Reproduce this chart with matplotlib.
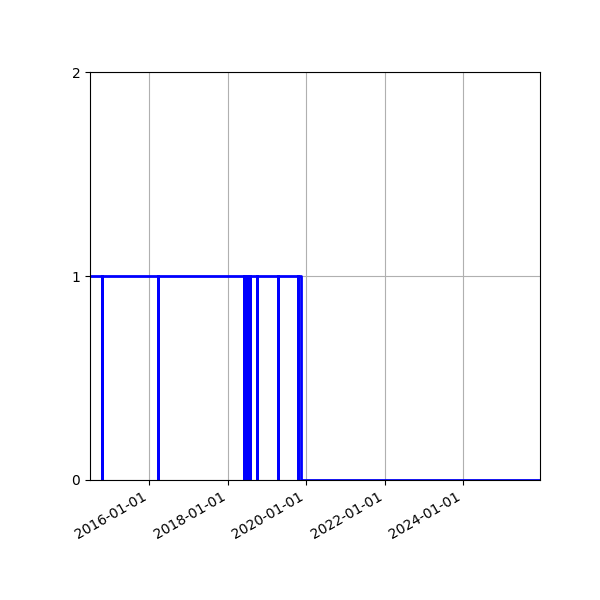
import matplotlib
matplotlib.use('Agg')
import matplotlib.pyplot as plt
import matplotlib.dates as mdates
import pandas as pd

# change points of the on/off state (steps-post)
dates = ['2014-07-01', '2014-10-23', '2014-10-24', '2016-03-27', '2016-03-28',
         '2018-06-06', '2018-06-07', '2018-06-22', '2018-06-23',
         '2018-07-09', '2018-07-10', '2018-07-25', '2018-07-26',
         '2018-09-29', '2018-09-30', '2019-04-15', '2019-04-16',
         '2019-10-21', '2019-10-22', '2019-11-13', '2025-12-17']
values = [1, 0, 1, 0, 1,
          0, 1, 0, 1,
          0, 1, 0, 1,
          0, 1, 0, 1,
          0, 1, 0, 0]

t = pd.to_datetime(dates)

fig, ax = plt.subplots(figsize=(6, 6), dpi=100)
ax.step(t, values, where='post', color='b', linewidth=2)
ax.set_xlim(t[0], t[-1])
ax.set_ylim(0, 2)
ax.set_yticks([0, 1, 2])
ax.xaxis.set_major_locator(mdates.YearLocator(2))
ax.xaxis.set_major_formatter(mdates.DateFormatter('%Y-%m-%d'))
ax.grid(True)
fig.autofmt_xdate()
fig.subplots_adjust(left=0.15, right=0.9, top=0.88, bottom=0.2)
fig.savefig('out.png')
